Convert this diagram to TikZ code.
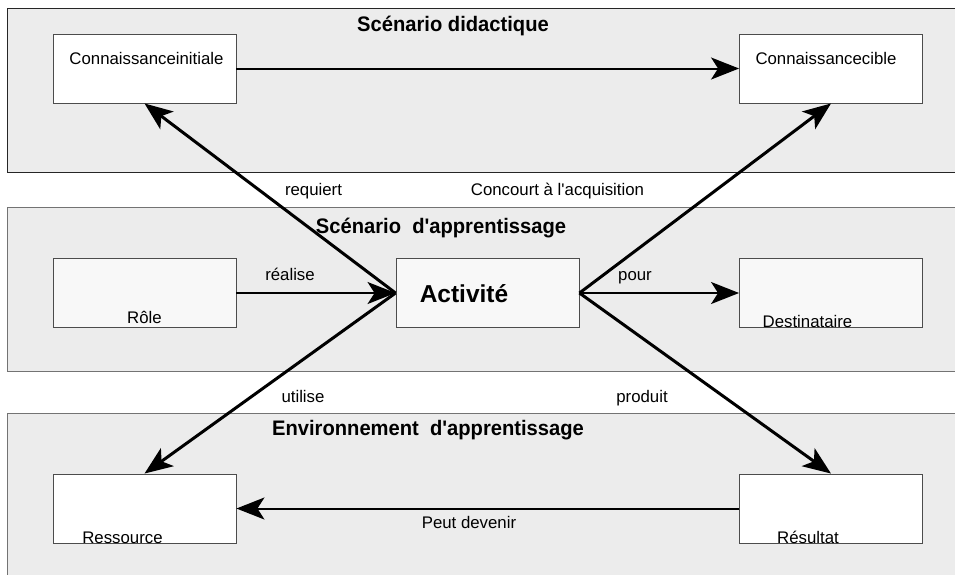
\documentclass[tikz,border=0pt]{standalone}
\usepackage{fontspec}
\setmainfont{Liberation Sans}[Ligatures=TeXOff]
\newfontfamily\titlefont{Liberation Sans}[FakeStretch=0.96]
\usetikzlibrary{arrows.meta}

\definecolor{bandgray}{HTML}{ECECEC}
\definecolor{boxlight}{HTML}{F8F8F8}

\tikzset{
    band/.style={fill=bandgray,draw=black!55,line width=1pt},
    box/.style={draw=black!70,line width=0.9pt,minimum width=183pt,minimum height=69pt,inner sep=0pt},
    lbl/.style={anchor=base,inner sep=0pt,font=\fontsize{16.8}{20}\selectfont},
    ttl/.style={anchor=base,inner sep=0pt,font=\titlefont\bfseries\fontsize{21}{25}\selectfont},
    hline/.style={line width=2pt,arrows = -{Stealth[length=28pt,width=22pt,inset=7pt]}},
    dline/.style={line width=3pt,arrows = -{Stealth[length=28pt,width=22pt,inset=7pt]}}
}

\begin{document}
\begin{tikzpicture}[x=1pt,y=-1pt]

            \useasboundingbox (0,0) rectangle (955,574);

            % \draw [help lines] (0,0) grid (955,574);

            % bands
            \draw[band,draw=black!85] (7,8) rectangle (962,172);
            \draw[band] (7,207) rectangle (962,371);
            \draw[band] (7,413) rectangle (962,582);

            \node[ttl] (t1) at (453,31) {Scénario didactique};
            \node[ttl] (t2) at (441,233) {Scénario\ \ d'apprentissage};
            \node[ttl] (t3) at (428,435) {Environnement\ \ d'apprentissage};

            \path   (144.5,68.5) node (ci) [box,fill=white] {}
                    (831,68.5)   node (cc) [box,fill=white] {}
                    (144.5,293)  node (ro) [box,fill=boxlight] {}
                    (487.5,293)  node (ac) [box,fill=boxlight] {}
                    (831,293)    node (de) [box,fill=boxlight] {}
                    (144.5,508.5) node (rs) [box,fill=white] {}
                    (831,508.5)  node (re) [box,fill=white] {};

            \node[lbl] (ci-t) at (146.5,64) {Connaissanceinitiale};
            \node[lbl] (cc-t) at (826,64) {Connaissancecible};
            \node[lbl] (ro-t) at (144.5,323) {Rôle};
            \node[lbl,font=\bfseries\fontsize{24.5}{28}\selectfont] (ac-t) at (464,302) {Activité};
            \node[lbl] (de-t) at (807.5,327) {Destinataire};
            \node[lbl] (rs-t) at (122.5,543) {Ressource};
            \node[lbl] (re-t) at (808,543) {Résultat};

            \draw[hline] (ci) -- (cc);
            \draw[hline] (ro) -- (ac);
            \draw[hline] (ac) -- (de);
            \draw[hline] (re) -- (rs);
            \draw[dline] (ac.west) -- (ci.south);
            \draw[dline] (ac.east) -- (cc.south);
            \draw[dline] (ac.west) -- (rs.north);
            \draw[dline] (ac.east) -- (re.north);

            \node[lbl] (l1) at (313.5,195) {requiert};
            \node[lbl] (l2) at (557.5,195) {Concourt à l'acquisition};
            \node[lbl] (l3) at (290,280) {réalise};
            \node[lbl] (l4) at (635,280) {pour};
            \node[lbl] (l5) at (303,402) {utilise};
            \node[lbl] (l6) at (642,402) {produit};
            \node[lbl] (l7) at (469,528) {Peut devenir};

\end{tikzpicture}
\end{document}
